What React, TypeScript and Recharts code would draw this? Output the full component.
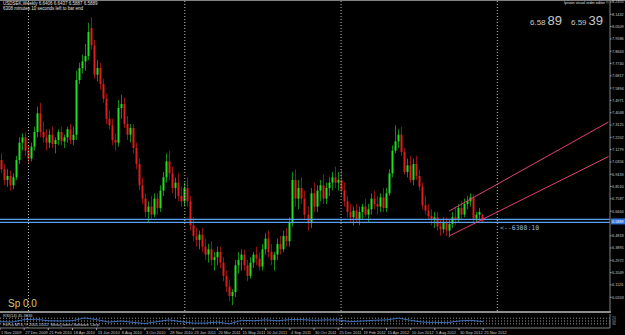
import React from 'react';
import { ComposedChart, LineChart, Bar, Line, XAxis, YAxis, ReferenceLine } from 'recharts';

// weekly USDSEK, 1 Nov 2009 .. 25 Nov 2012 (161 bars)
const opens = [
  7.05, 6.98, 6.90, 6.93, 6.86, 6.92, 7.05, 7.18, 7.22, 7.12,
  7.06, 7.15, 7.26, 7.40, 7.26, 7.22, 7.18, 7.24, 7.17, 7.20,
  7.26, 7.19, 7.22, 7.28, 7.20, 7.24, 7.65, 7.74, 7.79, 7.83,
  8.04, 7.91, 7.69, 7.74, 7.62, 7.51, 7.36, 7.31, 7.20, 7.18,
  7.44, 7.47, 7.32, 7.24, 7.29, 7.14, 7.02, 6.86, 6.76, 6.66,
  6.70, 6.64, 6.76, 6.69, 6.82, 6.92, 7.04, 6.95, 6.84, 6.88,
  6.78, 6.74, 6.84, 6.74, 6.56, 6.48, 6.45, 6.49, 6.40, 6.34,
  6.38, 6.30, 6.32, 6.36, 6.28, 6.18, 6.10, 6.03, 6.06, 6.26,
  6.30, 6.34, 6.26, 6.18, 6.28, 6.34, 6.31, 6.25, 6.38, 6.46,
  6.36, 6.30, 6.34, 6.42, 6.38, 6.48, 6.44, 6.58, 6.90, 6.76,
  6.84, 6.76, 6.64, 6.58, 6.80, 6.70, 6.82, 6.86, 6.76, 6.84,
  6.88, 6.92, 6.88, 6.90, 6.82, 6.74, 6.66, 6.62, 6.67, 6.60,
  6.66, 6.70, 6.64, 6.68, 6.76, 6.72, 6.70, 6.77, 6.69, 6.80,
  6.95, 7.12, 7.19, 7.24, 7.11, 6.96, 7.01, 6.90, 7.02, 6.93,
  6.85, 6.71, 6.67, 6.63, 6.60, 6.62, 6.55, 6.53, 6.58, 6.52,
  6.57, 6.62, 6.60, 6.69, 6.64, 6.72, 6.74, 6.77, 6.61, 6.64,
  6.6406,
];
const highs = [
  7.10, 7.02, 6.98, 6.97, 6.95, 7.08, 7.22, 7.25, 7.26, 7.16,
  7.18, 7.30, 7.45, 7.48, 7.34, 7.28, 7.28, 7.30, 7.22, 7.28,
  7.30, 7.24, 7.30, 7.32, 7.30, 7.72, 7.78, 7.84, 7.92, 8.08,
  8.12, 7.95, 7.80, 7.78, 7.66, 7.55, 7.42, 7.36, 7.25, 7.50,
  7.54, 7.52, 7.38, 7.32, 7.32, 7.18, 7.06, 6.92, 6.80, 6.74,
  6.78, 6.80, 6.80, 6.86, 6.96, 7.10, 7.12, 7.00, 6.92, 6.95,
  6.85, 6.88, 6.92, 6.78, 6.62, 6.54, 6.52, 6.54, 6.46, 6.42,
  6.44, 6.36, 6.40, 6.40, 6.32, 6.22, 6.15, 6.08, 6.30, 6.36,
  6.38, 6.38, 6.30, 6.32, 6.36, 6.40, 6.36, 6.42, 6.50, 6.52,
  6.42, 6.36, 6.46, 6.48, 6.52, 6.54, 6.62, 6.96, 6.98, 6.90,
  6.92, 6.82, 6.70, 6.84, 6.88, 6.86, 6.90, 6.94, 6.88, 6.92,
  6.96, 7.00, 6.96, 6.98, 6.88, 6.78, 6.72, 6.70, 6.72, 6.70,
  6.72, 6.76, 6.72, 6.80, 6.82, 6.78, 6.80, 6.84, 6.84, 6.98,
  7.16, 7.31, 7.28, 7.30, 7.14, 7.06, 7.08, 7.06, 7.08, 6.98,
  6.88, 6.78, 6.72, 6.68, 6.66, 6.66, 6.60, 6.62, 6.62, 6.60,
  6.66, 6.70, 6.72, 6.74, 6.76, 6.78, 6.80, 6.79, 6.66, 6.69,
  6.6437,
];
const lows = [
  6.95, 6.86, 6.85, 6.82, 6.83, 6.90, 7.02, 7.12, 7.08, 7.02,
  7.04, 7.12, 7.22, 7.22, 7.18, 7.12, 7.14, 7.14, 7.10, 7.16,
  7.16, 7.14, 7.18, 7.17, 7.16, 7.20, 7.62, 7.70, 7.72, 7.80,
  7.88, 7.66, 7.64, 7.58, 7.48, 7.32, 7.28, 7.16, 7.12, 7.15,
  7.36, 7.29, 7.20, 7.18, 7.10, 6.98, 6.82, 6.72, 6.62, 6.58,
  6.60, 6.62, 6.64, 6.66, 6.78, 6.88, 6.90, 6.80, 6.76, 6.74,
  6.70, 6.70, 6.70, 6.52, 6.44, 6.40, 6.38, 6.36, 6.30, 6.28,
  6.26, 6.22, 6.26, 6.24, 6.14, 6.06, 5.99, 5.96, 6.02, 6.20,
  6.22, 6.22, 6.14, 6.16, 6.24, 6.26, 6.22, 6.22, 6.34, 6.32,
  6.26, 6.22, 6.30, 6.34, 6.36, 6.40, 6.40, 6.55, 6.70, 6.68,
  6.72, 6.60, 6.52, 6.54, 6.66, 6.66, 6.74, 6.72, 6.72, 6.78,
  6.82, 6.84, 6.82, 6.78, 6.70, 6.62, 6.58, 6.56, 6.58, 6.56,
  6.60, 6.62, 6.58, 6.64, 6.68, 6.64, 6.66, 6.66, 6.66, 6.78,
  6.92, 7.10, 7.14, 7.08, 6.94, 6.92, 6.88, 6.86, 6.90, 6.82,
  6.68, 6.64, 6.60, 6.56, 6.54, 6.52, 6.48, 6.50, 6.48, 6.47,
  6.54, 6.56, 6.58, 6.60, 6.62, 6.68, 6.70, 6.58, 6.58, 6.60,
  6.5887,
];
const closes = [
  6.98, 6.90, 6.93, 6.86, 6.92, 7.05, 7.18, 7.22, 7.12, 7.06,
  7.15, 7.26, 7.40, 7.26, 7.22, 7.18, 7.24, 7.17, 7.20, 7.26,
  7.19, 7.22, 7.28, 7.20, 7.24, 7.65, 7.74, 7.79, 7.83, 8.01,
  7.91, 7.69, 7.74, 7.62, 7.51, 7.36, 7.31, 7.20, 7.18, 7.44,
  7.47, 7.32, 7.24, 7.29, 7.14, 7.02, 6.86, 6.76, 6.66, 6.70,
  6.64, 6.76, 6.69, 6.82, 6.92, 7.04, 6.95, 6.84, 6.88, 6.78,
  6.74, 6.84, 6.74, 6.56, 6.48, 6.45, 6.49, 6.40, 6.34, 6.38,
  6.30, 6.32, 6.36, 6.28, 6.18, 6.10, 6.03, 6.06, 6.26, 6.30,
  6.34, 6.26, 6.18, 6.28, 6.34, 6.31, 6.25, 6.38, 6.46, 6.36,
  6.30, 6.34, 6.42, 6.38, 6.48, 6.44, 6.58, 6.90, 6.76, 6.84,
  6.76, 6.64, 6.58, 6.80, 6.70, 6.82, 6.86, 6.76, 6.84, 6.88,
  6.92, 6.88, 6.90, 6.82, 6.74, 6.66, 6.62, 6.67, 6.60, 6.66,
  6.70, 6.64, 6.68, 6.76, 6.72, 6.70, 6.77, 6.69, 6.80, 6.95,
  7.12, 7.19, 7.24, 7.11, 6.96, 7.01, 6.90, 7.02, 6.93, 6.85,
  6.71, 6.67, 6.63, 6.60, 6.62, 6.55, 6.53, 6.58, 6.52, 6.57,
  6.62, 6.60, 6.69, 6.64, 6.72, 6.74, 6.77, 6.61, 6.64, 6.66,
  6.5889,
];

// indicator pane, read every 4th bar
const rsiValues = [
  45, 42, 60, 62, 52, 50, 52, 72, 60, 42,
  50, 40, 32, 45, 58, 45, 35, 35, 42, 30,
  55, 52, 58, 52, 60, 60, 55, 58, 58, 45,
  50, 55, 58, 70, 55, 42, 40, 38, 50, 55,
  45,
];

const dateLabels = [
  '1 Nov 2009', '27 Dec 2009', '21 Feb 2010', '18 Apr 2010', '13 Jun 2010', '8 Aug 2010',
  '3 Oct 2010', '28 Nov 2010', '23 Jan 2011', '20 Mar 2011', '15 May 2011', '10 Jul 2011',
  '4 Sep 2011', '30 Oct 2011', '25 Dec 2011', '19 Feb 2012', '15 Apr 2012', '10 Jun 2012',
  '5 Aug 2012', '30 Sep 2012', '25 Nov 2012',
];

const priceTicks = [
  8.2355, 8.1432, 8.0509, 7.9586, 7.8663, 7.7740, 7.6817, 7.5894, 7.4971, 7.4048,
  7.3125, 7.2202, 7.1279, 7.0356, 6.9433, 6.8510, 6.7587, 6.6664, 6.4818,
  6.3895, 6.2972, 6.2049, 6.1126, 6.0203,
];
const rsiLevels = [30, 50, 70];

const yearStarts = [9, 61, 113, 165];
const blueLines = [6.604, 6.582];
const lastPrice = 6.5889;
const channelUpper = [{ x: 149, y: 6.667 }, { x: 202, y: 7.335 }];
const channelLower = [{ x: 149, y: 6.480 }, { x: 202, y: 7.076 }];

const TOTAL_SLOTS = 203;
const FONT = '"Liberation Sans", Arial, sans-serif';

const data = Array.from({ length: TOTAL_SLOTS }, (_, i) => {
  if (i >= opens.length) return { idx: i };
  return {
    idx: i,
    open: opens[i],
    high: highs[i],
    low: lows[i],
    close: closes[i],
    rsi: i % 4 === 0 ? rsiValues[i / 4] : null,
  };
});

const Candle = (props: any) => {
  const { x, y, width, height, payload } = props;
  if (!payload || payload.open == null) return null;
  const { open, high, low, close } = payload;
  const top = Math.min(y, y + height);
  const h = Math.abs(height);
  const ratio = high > low ? h / (high - low) : 0;
  const cx = Math.floor(x + width / 2);
  const up = close >= open;
  const bTop = top + (high - Math.max(open, close)) * ratio;
  const bBot = top + (high - Math.min(open, close)) * ratio;
  return (
    <g>
      <line x1={cx + 0.5} x2={cx + 0.5} y1={top} y2={top + h} stroke={up ? '#138a13' : '#8e1414'} strokeWidth={1} />
      <rect x={cx - 0.5} y={bTop} width={2} height={Math.max(1, bBot - bTop)} fill={up ? '#1fe01f' : '#e01c1c'} />
    </g>
  );
};

// x comes in right at the axis line (tickSize/tickMargin set to 0)
const PriceTick = ({ x, y, payload }: any) => (
  <g>
    <line x1={x} x2={x + 1.5} y1={y} y2={y} stroke="#a0a0a0" />
    <text x={x + 2} y={y + 1.4} fontSize={3.8} fill="#c8c8c8" fontFamily={FONT}>
      {Number(payload.value).toFixed(4)}
    </text>
  </g>
);

const PriceTag = ({ viewBox }: any) => {
  if (!viewBox) return null;
  const right = viewBox.x + viewBox.width;
  return (
    <g>
      <rect x={right + 1} y={viewBox.y - 3} width={14} height={6} fill="#2f72d8" />
      <text x={right + 2} y={viewBox.y + 1.4} fontSize={3.8} fill="#ffffff" fontFamily={FONT}>
        {lastPrice.toFixed(4)}
      </text>
    </g>
  );
};

const DateTick = ({ x, y, payload }: any) => {
  const i = payload.value;
  if (i % 8 !== 0 || i / 8 >= dateLabels.length) return null;
  return (
    <g>
      <line x1={x} x2={x} y1={y} y2={y + 2} stroke="#a0a0a0" />
      <text x={x + 1} y={y + 5.5} fontSize={4} fill="#c8c8c8" fontFamily={FONT}>
        {dateLabels[i / 8]}
      </text>
    </g>
  );
};

const RsiTick = ({ x, y, payload }: any) => (
  <text x={x + 2} y={y + 1.2} fontSize={3.5} fill="#a0a0a0" fontFamily={FONT}>{payload.value}</text>
);

const overlay = (style: React.CSSProperties): React.CSSProperties => ({
  position: 'absolute',
  fontFamily: FONT,
  whiteSpace: 'nowrap',
  lineHeight: 1,
  ...style,
});

export default function App() {
  return (
    <div style={{ position: 'fixed', left: 0, top: 0, width: 625, height: 335, background: '#000', overflow: 'hidden' }}>
      <div style={{ position: 'absolute', left: 0, top: 0, width: 625, height: 1, background: '#808080' }} />

      <div style={{ position: 'absolute', left: 0, top: 0 }}>
        <ComposedChart width={625} height={312} data={data} margin={{ top: 1, right: 0, left: 0, bottom: 1 }} barCategoryGap={0}>
          <XAxis dataKey="idx" hide />
          <YAxis
            orientation="right"
            width={15}
            domain={[5.9168, 8.243]}
            allowDataOverflow
            ticks={priceTicks}
            interval={0}
            tickLine={false}
            tickSize={0}
            tickMargin={0}
            axisLine={{ stroke: '#808080' }}
            tick={<PriceTick />}
          />
          {yearStarts.map((v) => (
            <ReferenceLine key={v} x={v} stroke="#c0c0c0" strokeDasharray="1 2" />
          ))}
          {blueLines.map((v) => (
            <ReferenceLine key={v} y={v} stroke="#5a9ef0" strokeWidth={1.3} />
          ))}
          <ReferenceLine y={lastPrice} stroke="none" label={<PriceTag />} />
          <ReferenceLine segment={channelUpper} stroke="#e0407a" strokeWidth={1} ifOverflow="visible" />
          <ReferenceLine segment={channelLower} stroke="#e0407a" strokeWidth={1} ifOverflow="visible" />
          <Bar
            dataKey={(d: any) => (d.open == null ? null : [d.low, d.high])}
            shape={<Candle />}
            isAnimationActive={false}
          />
        </ComposedChart>
      </div>

      <div style={{ position: 'absolute', left: 0, top: 311, width: 611, height: 2, background: '#8c8c8c' }} />

      <div style={{ position: 'absolute', left: 0, top: 313 }}>
        <LineChart width={625} height={22} data={data} margin={{ top: 1, right: 0, left: 0, bottom: 0 }}>
          <XAxis
            dataKey="idx"
            height={7}
            interval={0}
            tickLine={false}
            tickSize={0}
            tickMargin={0}
            axisLine={{ stroke: '#808080' }}
            tick={<DateTick />}
          />
          <YAxis
            orientation="right"
            width={15}
            domain={[0, 100]}
            ticks={rsiLevels}
            interval={0}
            tickLine={false}
            tickSize={0}
            tickMargin={0}
            axisLine={{ stroke: '#808080' }}
            tick={<RsiTick />}
          />
          {rsiLevels.map((v) => (
            <ReferenceLine key={v} y={v} stroke="#9a9a9a" strokeDasharray="1 2" />
          ))}
          {yearStarts.slice(0, 3).map((v) => (
            <ReferenceLine key={v} x={v} stroke="#c0c0c0" strokeDasharray="1 2" />
          ))}
          <Line dataKey="rsi" stroke="#3b6fc0" strokeWidth={1} dot={false} connectNulls isAnimationActive={false} />
        </LineChart>
      </div>

      <div style={overlay({ left: 3, top: 2, fontSize: 4.5, color: '#e0e0e0' })}>USDSEK,Weekly  6.6406 6.6437 6.5887 6.5889</div>
      <div style={overlay({ left: 3, top: 7, fontSize: 4.5, color: '#e0e0e0' })}>6308 minutes 10 seconds left to bar end</div>
      <div style={overlay({ left: 564, top: 2, fontSize: 3.7, color: '#e0e0e0' })}>Ipision visual order editor ©</div>
      <div style={overlay({ left: 530, top: 12, color: '#c8c8c8' })}>
        <span style={{ fontSize: 8 }}>6.58</span>
        <span style={{ fontSize: 13, marginLeft: 2 }}>89</span>
      </div>
      <div style={overlay({ left: 571, top: 12, color: '#c8c8c8' })}>
        <span style={{ fontSize: 8 }}>6.59</span>
        <span style={{ fontSize: 13, marginLeft: 2 }}>39</span>
      </div>
      <div style={overlay({ left: 500, top: 225, fontSize: 6.5, color: '#9fb9d8', fontFamily: '"DejaVu Sans Mono", monospace' })}>{'<--6308:10'}</div>
      <div style={overlay({ left: 8, top: 299, fontSize: 10, color: '#d8c870' })}>Sp 0.0</div>
      <div style={overlay({ left: 3, top: 314, fontSize: 4, color: '#d0d0d0' })}>RSI(14) 45.3636</div>
      <div style={overlay({ left: 3, top: 323, fontSize: 4, color: '#d0d0d0' })}>FxPro MT4, © 2001-2012, MetaQuotes Software Corp.</div>
    </div>
  );
}
